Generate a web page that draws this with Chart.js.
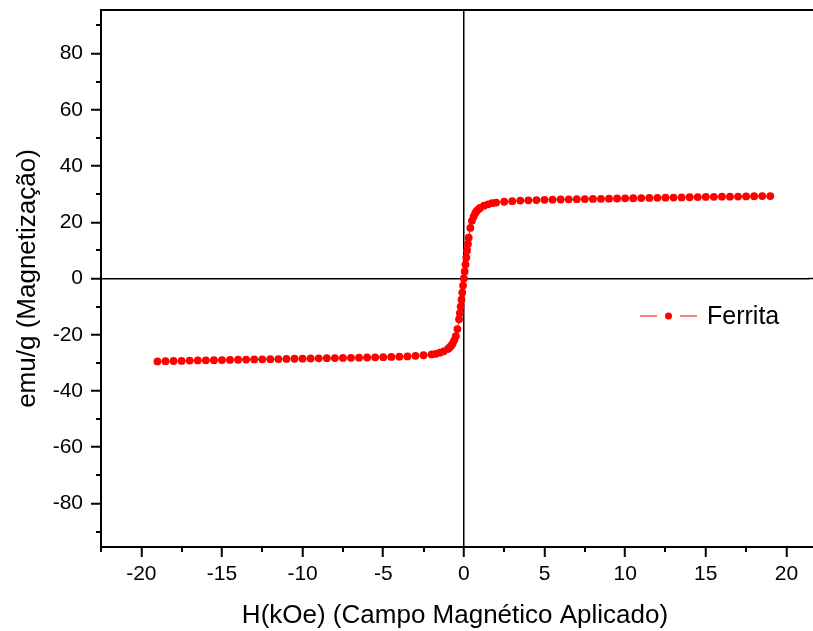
<!DOCTYPE html>
<html>
<head>
<meta charset="utf-8">
<script src="https://cdn.jsdelivr.net/npm/chart.js@4/dist/chart.umd.min.js"></script>
<style>
  html, body { margin: 0; padding: 0; background: #fff; overflow: hidden; }
  #wrap { width: 813px; height: 631px; }
</style>
</head>
<body>
<div id="wrap"><canvas id="c" width="813" height="631"></canvas></div>
<script>
// Applied field H (kOe)
const fieldH = [
  -19, -18.5, -18, -17.5, -17, -16.5, -16, -15.5, -15, -14.5,
  -14, -13.5, -13, -12.5, -12, -11.5, -11, -10.5, -10, -9.5,
  -9, -8.5, -8, -7.5, -7, -6.5, -6, -5.5, -5, -4.5,
  -4, -3.5, -3, -2.5, -2, -1.75, -1.5, -1.25, -1, -0.9,
  -0.8, -0.7, -0.6, -0.5, -0.4, -0.3, -0.25, -0.2, -0.15, -0.1,
  -0.05, 0, 0.05, 0.1, 0.15, 0.2, 0.25, 0.3, 0.4, 0.5,
  0.6, 0.7, 0.8, 0.9, 1, 1.25, 1.5, 1.75, 2, 2.5,
  3, 3.5, 4, 4.5, 5, 5.5, 6, 6.5, 7, 7.5,
  8, 8.5, 9, 9.5, 10, 10.5, 11, 11.5, 12, 12.5,
  13, 13.5, 14, 14.5, 15, 15.5, 16, 16.5, 17, 17.5,
  18, 18.5, 19
];

// Magnetization (emu/g)
const magnetization = [
  -29.5, -29.4, -29.35, -29.3, -29.2, -29.15, -29.1, -29.05, -29.0, -28.95,
  -28.9, -28.85, -28.8, -28.75, -28.7, -28.65, -28.6, -28.55, -28.5, -28.45,
  -28.4, -28.35, -28.3, -28.25, -28.2, -28.15, -28.1, -28.05, -28.0, -27.9,
  -27.8, -27.7, -27.5, -27.3, -27.0, -26.8, -26.4, -25.9, -25.1, -24.6,
  -24.0, -23.2, -22.0, -20.5, -18.0, -14.5, -12.3, -10.0, -7.5, -5.0,
  -2.5, 0, 2.5, 5.0, 7.5, 10.0, 12.3, 14.5, 18.0, 20.5,
  22.0, 23.2, 24.0, 24.6, 25.1, 25.9, 26.4, 26.8, 27.0, 27.3,
  27.5, 27.7, 27.8, 27.9, 28.0, 28.05, 28.1, 28.15, 28.2, 28.25,
  28.3, 28.35, 28.4, 28.45, 28.5, 28.55, 28.6, 28.65, 28.7, 28.75,
  28.8, 28.85, 28.9, 28.95, 29.0, 29.05, 29.1, 29.1, 29.15, 29.2,
  29.25, 29.3, 29.3
];

// Axis tick positions
const xTickValues = [-20, -15, -10, -5, 0, 5, 10, 15, 20];
const yTickValues = [-80, -60, -40, -20, 0, 20, 40, 60, 80];

const seriesLabel = 'Ferrita';
const xTitle = 'H(kOe) (Campo Magnético Aplicado)';
const yTitle = 'emu/g (Magnetização)';

const points = fieldH.map((h, i) => ({ x: h, y: magnetization[i] }));

const RED = '#ff0000';
const FONT = '"Liberation Sans", Arial, sans-serif';

// minor ticks, frame lines and the legend entry
const extras = {
  id: 'extras',
  afterDraw(chart) {
    const { ctx, chartArea: a, scales } = chart;
    const xs = scales.x, ys = scales.y;
    const xMinor = [xTickValues[0] - 2.5].concat(xTickValues.map(v => v + 2.5));
    const yMinor = [yTickValues[0] - 10].concat(yTickValues.map(v => v + 10));
    ctx.save();
    ctx.strokeStyle = '#000';
    ctx.lineWidth = 2;
    ctx.beginPath();
    xMinor.forEach(v => {
      if (v < xs.min || v > xs.max) return;
      const px = Math.round(xs.getPixelForValue(v));
      ctx.moveTo(px, a.bottom);
      ctx.lineTo(px, a.bottom + 5);
    });
    yMinor.forEach(v => {
      if (v < ys.min || v > ys.max) return;
      const py = Math.round(ys.getPixelForValue(v));
      ctx.moveTo(a.left, py);
      ctx.lineTo(a.left - 5, py);
    });
    ctx.stroke();
    // top frame and bottom axis, running out to the edge
    ctx.beginPath();
    ctx.moveTo(a.left - 1, a.top);
    ctx.lineTo(chart.width, a.top);
    ctx.moveTo(a.right - 1, a.bottom);
    ctx.lineTo(chart.width, a.bottom);
    ctx.stroke();
    // y = 0 line continued to the edge
    const y0 = ys.getPixelForValue(0);
    ctx.lineWidth = 1.5;
    ctx.beginPath();
    ctx.moveTo(a.right - 1, y0);
    ctx.lineTo(chart.width, y0);
    ctx.stroke();

    // legend
    const ly = 316;
    ctx.strokeStyle = RED;
    ctx.lineWidth = 1;
    ctx.beginPath();
    ctx.moveTo(640, ly); ctx.lineTo(657, ly);
    ctx.moveTo(680, ly); ctx.lineTo(697, ly);
    ctx.stroke();
    ctx.fillStyle = RED;
    ctx.beginPath();
    ctx.arc(668.5, ly, 3.5, 0, Math.PI * 2);
    ctx.fill();
    ctx.fillStyle = '#000';
    ctx.font = '25px ' + FONT;
    ctx.textBaseline = 'middle';
    ctx.textAlign = 'left';
    ctx.fillText(seriesLabel, 707, ly + 1);
    ctx.restore();
  }
};

const zeroLine = c => (c.tick && c.tick.value === 0) ? '#000' : 'rgba(0,0,0,0)';
const noOverflow = s => { s.paddingTop = 0; s.paddingBottom = 0; s.paddingLeft = 0; s.paddingRight = 0; };

new Chart(document.getElementById('c'), {
  type: 'scatter',
  data: {
    datasets: [{
      label: seriesLabel,
      data: points,
      showLine: true,
      borderColor: RED,
      borderWidth: 1,
      backgroundColor: RED,
      pointRadius: 3.9,
      pointBorderWidth: 0,
      pointBackgroundColor: RED
    }]
  },
  options: {
    responsive: false,
    animation: false,
    layout: { padding: { top: 10, right: 0, left: 0, bottom: 0 } },
    plugins: { legend: { display: false }, tooltip: { enabled: false } },
    scales: {
      x: {
        type: 'linear',
        min: -22.5,
        max: 21.4,
        afterFit(s) { s.height = 84; noOverflow(s); },
        afterBuildTicks(s) { s.ticks = xTickValues.map(v => ({ value: v })); },
        border: { display: true, color: '#000', width: 2 },
        grid: {
          drawOnChartArea: true,
          color: zeroLine,
          lineWidth: 1.5,
          tickColor: '#000',
          tickWidth: 2,
          tickLength: 10
        },
        ticks: {
          color: '#000',
          padding: 5,
          maxRotation: 0,
          autoSkip: false,
          font: { family: FONT, size: 21 }
        },
        title: {
          display: true,
          text: xTitle,
          color: '#000',
          font: { family: FONT, size: 26 },
          padding: { top: 0, bottom: 0 }
        }
      },
      y: {
        type: 'linear',
        min: -95.5,
        max: 95.5,
        afterFit(s) { s.width = 101; noOverflow(s); },
        afterBuildTicks(s) { s.ticks = yTickValues.map(v => ({ value: v })); },
        border: { display: true, color: '#000', width: 2 },
        grid: {
          drawOnChartArea: true,
          color: zeroLine,
          lineWidth: 1.5,
          tickColor: '#000',
          tickWidth: 2,
          tickLength: 10
        },
        ticks: {
          color: '#000',
          padding: 8,
          autoSkip: false,
          font: { family: FONT, size: 21 }
        },
        title: {
          display: true,
          text: yTitle,
          color: '#000',
          font: { family: FONT, size: 26 },
          padding: { top: 12, bottom: 0 }
        }
      }
    }
  },
  plugins: [extras]
});
</script>
</body>
</html>
